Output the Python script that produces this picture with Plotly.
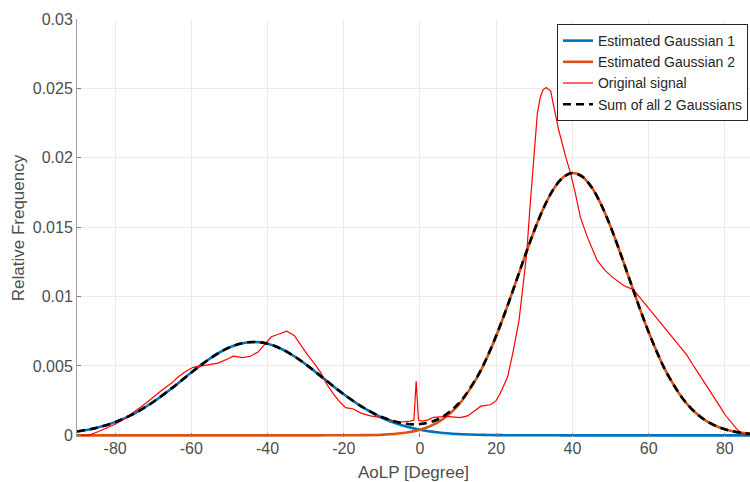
import plotly.graph_objects as go

# Angle grid (degrees) for the two fitted Gaussian components (finer around the peaks)
fit_deg = [-90, -85, -80, -75, -70, -65,
           -62.5, -60, -57.5, -55, -52.5, -50, -47.5, -45, -42.5, -40, -37.5, -35, -32.5,
           -30, -27.5, -25, -22.5,
           -20, -15, -10, -5, 0, 5, 10, 15,
           17.5, 20, 22.5, 25, 27.5, 30, 32.5, 35, 37.5, 40, 42.5, 45, 47.5, 50, 52.5, 55,
           57.5, 60, 62.5,
           65, 70, 75, 80, 85, 90]

gauss1 = [0.000280, 0.000535, 0.000951, 0.001569, 0.002405, 0.003421,
          0.003971, 0.004524, 0.005059, 0.005554, 0.005987, 0.006335, 0.006581, 0.006711,
          0.006718, 0.006602, 0.006370, 0.006033, 0.005610, 0.005121, 0.004589, 0.004037,
          0.003487,
          0.002956, 0.002010, 0.001270, 0.000745, 0.000406, 0.000205, 0.0000966, 0.0000422,
          0.0000271, 0.0000171, 0.0000106, 0.0000064, 0.0000038, 0.0000022, 0.0000013,
          0.0000007, 0.0000004, 0.0000002, 0.0000001, 0.0, 0.0, 0.0, 0.0, 0.0, 0.0, 0.0, 0.0,
          0.0, 0.0, 0.0, 0.0, 0.0, 0.0]

gauss2 = [0.0, 0.0, 0.0, 0.0, 0.0, 0.0,
          0.0, 0.0, 0.0, 0.0, 0.0, 0.0, 0.0, 0.0, 0.0, 0.0, 0.0, 0.0, 0.0,
          0.00000015, 0.00000034, 0.00000077, 0.0000016,
          0.0000034, 0.0000135, 0.000047, 0.000147, 0.000405, 0.000992, 0.002160, 0.004175,
          0.005549, 0.007161, 0.008972, 0.010911, 0.012878, 0.014757, 0.016415, 0.017723,
          0.018575, 0.018898, 0.018664, 0.017893, 0.016651, 0.015041, 0.013188, 0.011227,
          0.009276, 0.007439, 0.005793,
          0.004377, 0.002287, 0.001061, 0.000437, 0.000160, 0.0000519]

gauss_sum = [a + b for a, b in zip(gauss1, gauss2)]

# Measured AoLP histogram
signal_deg = [-90, -87, -85, -82.5, -80, -77.5, -75.5, -72, -68, -65, -63.5, -61.5, -59.5, -57,
              -55, -53, -50.5, -49, -46.5, -44.5, -42.5, -40.5, -39, -37, -35, -33, -31.5,
              -29.5, -27.5, -26, -24.5, -22.5, -21, -19.5, -17.5, -15.5, -13, -11, -8.5, -6.5,
              -5, -2.5, -1.6, -1.0, -0.4, 0.5, 2, 3.5, 7, 10.5, 12.5, 14, 16, 18.5, 20, 21, 23,
              24.5, 26, 27, 28, 28.8, 29.5, 30, 30.8, 31.6, 32.3, 33.1, 34.3, 35.1, 36.4, 38.2,
              39.5, 40.8, 42.1, 43.9, 46.5, 48.5, 50.5, 53.4, 56, 57.5, 59.6, 62, 64, 66, 68.4,
              70, 71.8, 73.5, 75.4, 77, 78.9, 80, 81.5, 83, 84.1, 85.5, 90]
signal_freq = [0, 0, 0.0002, 0.0005, 0.0008, 0.0012, 0.0016, 0.0023, 0.0032, 0.0038, 0.0042,
               0.0046, 0.0049, 0.0050, 0.0051, 0.0052, 0.0055, 0.0057, 0.0056, 0.0057, 0.0060,
               0.0066, 0.0071, 0.0073, 0.0075, 0.0072, 0.0066, 0.0058, 0.0051, 0.0045, 0.0037,
               0.0029, 0.0024, 0.0020, 0.0019, 0.0016, 0.0014, 0.0013, 0.0012, 0.0010, 0.00096,
               0.00103, 0.0011, 0.0039, 0.0011, 0.00103, 0.0011, 0.0013, 0.00137, 0.00128,
               0.0014, 0.0017, 0.0021, 0.0022, 0.0025, 0.0030, 0.0042, 0.0061, 0.0083, 0.0107,
               0.0131, 0.0162, 0.0189, 0.0208, 0.0232, 0.0244, 0.0249, 0.02507, 0.0248, 0.0237,
               0.0220, 0.0201, 0.0189, 0.0174, 0.0157, 0.0143, 0.0126, 0.0119, 0.0114, 0.0108,
               0.0105, 0.0100, 0.0093, 0.0085, 0.0078, 0.0072, 0.0064, 0.0058, 0.0050, 0.0043,
               0.0035, 0.0028, 0.0020, 0.0015, 0.00096, 0.0005, 0.0002, 0, 0]

x_ticks = [-80, -60, -40, -20, 0, 20, 40, 60, 80]
x_tick_text = ["-80", "-60", "-40", "-20", "0", "20", "40", "60", "80"]
y_ticks = [0, 0.005, 0.01, 0.015, 0.02, 0.025, 0.03]
y_tick_text = ["0", "0.005", "0.01", "0.015", "0.02", "0.025", "0.03"]

FONT = "Liberation Sans, Arial, Helvetica, sans-serif"
BLUE = "#0072BD"
ORANGE = "#D95319"
TEXT = "#4d4d4d"

fig = go.Figure()
fig.add_trace(go.Scatter(x=fit_deg, y=gauss1, mode="lines", name="Estimated Gaussian 1",
                         line=dict(color=BLUE, width=2.6, shape="spline")))
fig.add_trace(go.Scatter(x=fit_deg, y=gauss2, mode="lines", name="Estimated Gaussian 2",
                         line=dict(color=ORANGE, width=2.6, shape="spline")))
fig.add_trace(go.Scatter(x=signal_deg, y=signal_freq, mode="lines", name="Original signal",
                         line=dict(color="#FF0000", width=1.2)))
fig.add_trace(go.Scatter(x=fit_deg, y=gauss_sum, mode="lines", name="Sum of all 2 Gaussians",
                         line=dict(color="black", width=2.6, dash="8px,5px", shape="spline")))

fig.update_layout(
    width=750, height=482,
    margin=dict(l=77, r=0, t=19, b=45),
    paper_bgcolor="white", plot_bgcolor="white",
    font=dict(family=FONT, size=16, color=TEXT),
    showlegend=True,
    legend=dict(
        x=0.997, y=0.988, xanchor="right", yanchor="top",
        bgcolor="white", bordercolor="#262626", borderwidth=1,
        font=dict(family=FONT, size=14, color="#262626"),
        itemwidth=30, tracegroupgap=0,
    ),
    xaxis=dict(
        range=[-90, 86.6], tickvals=x_ticks, ticktext=x_tick_text, ticks="inside", ticklen=4,
        tickcolor="#808080", showgrid=True, gridcolor="#ebebeb", gridwidth=1,
        zeroline=False, showline=False,
        title=dict(text="AoLP [Degree]", font=dict(size=17, color=TEXT), standoff=11),
        tickfont=dict(size=16, color=TEXT),
    ),
    yaxis=dict(
        range=[-0.00012, 0.03], tickvals=y_ticks, ticktext=y_tick_text, ticks="inside",
        ticklen=4, tickcolor="#808080", showgrid=True, gridcolor="#ebebeb", gridwidth=1,
        zeroline=False, showline=True, linecolor="#a0a0a0", linewidth=1,
        title=dict(text="Relative Frequency", font=dict(size=17, color=TEXT), standoff=3),
        tickfont=dict(size=16, color=TEXT),
    ),
)

fig.write_html("out.html")
